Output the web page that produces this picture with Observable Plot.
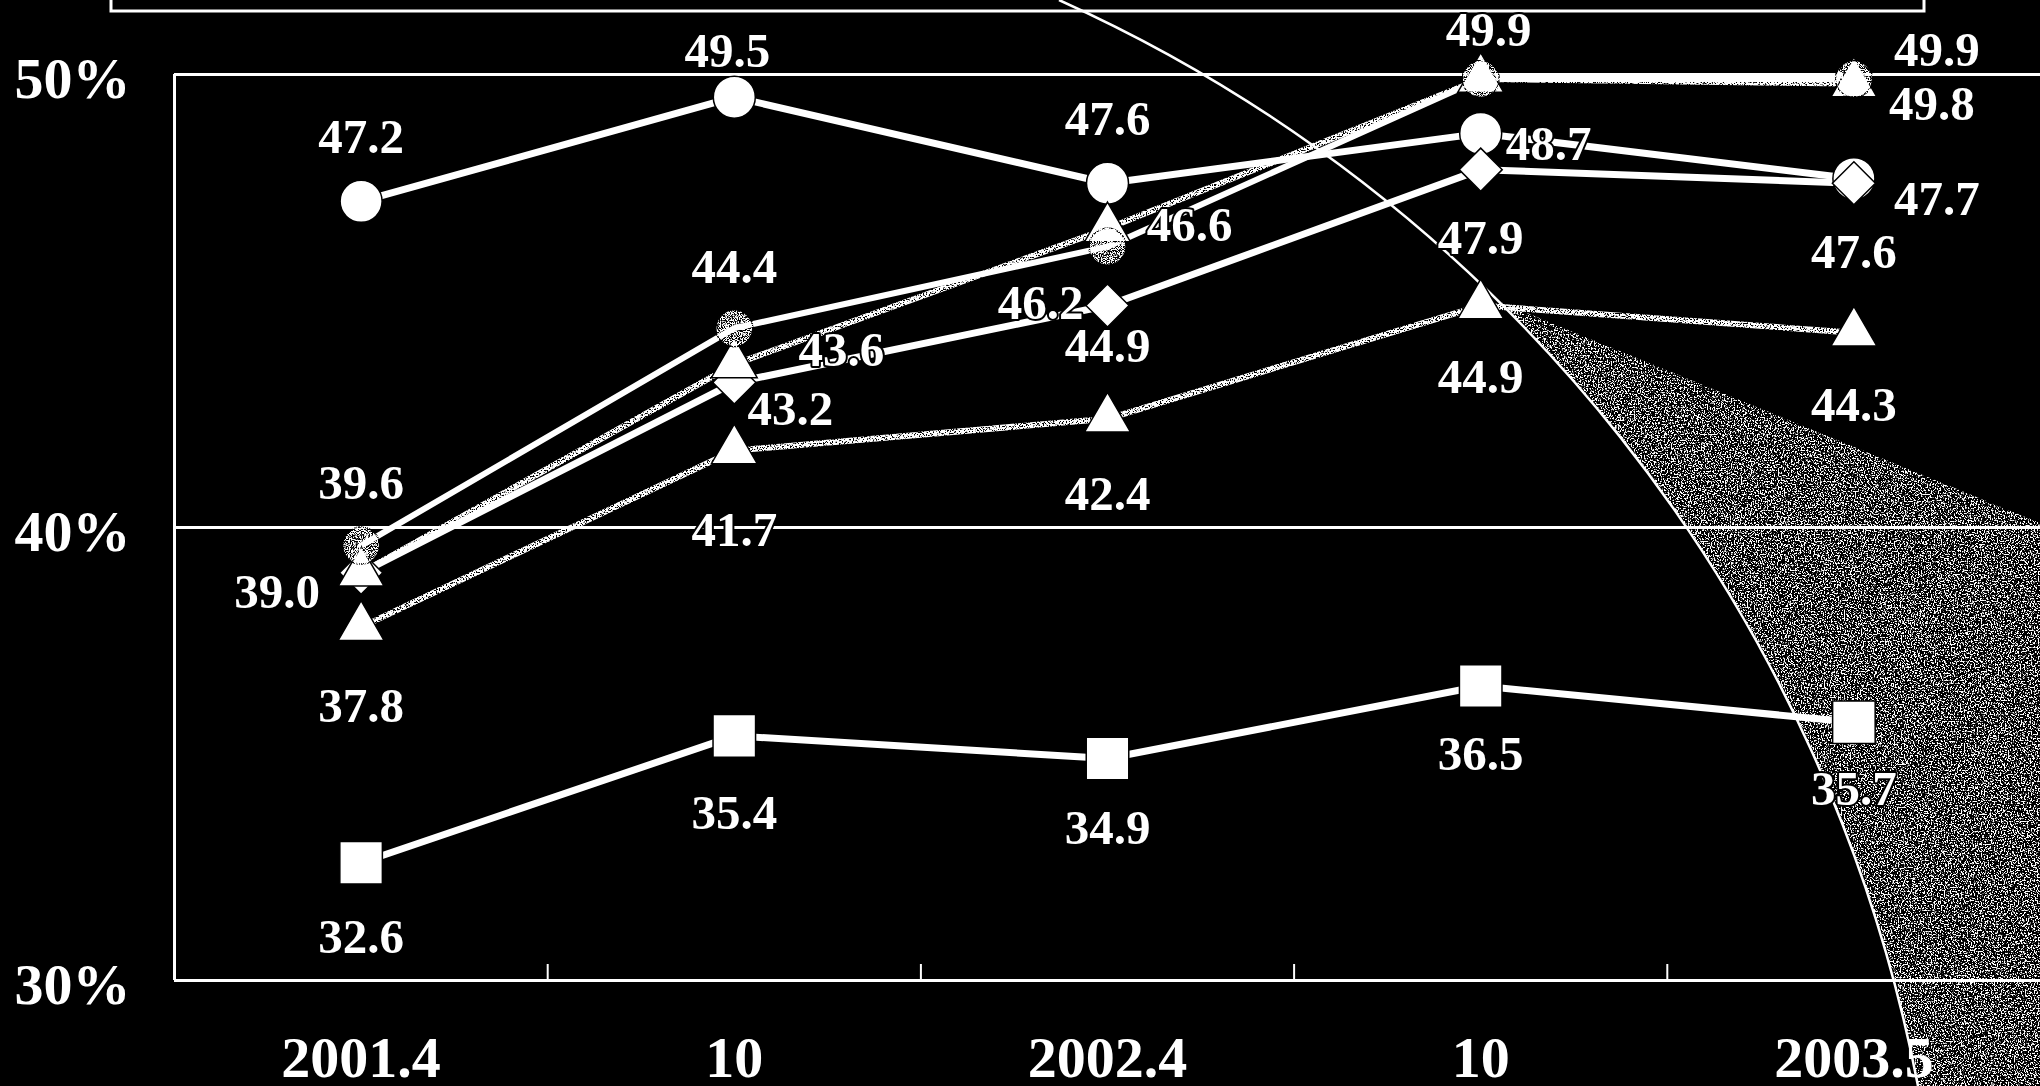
<!DOCTYPE html>
<html>
<head>
<meta charset="utf-8">
<script src="https://cdn.jsdelivr.net/npm/d3@7"></script>
<script src="https://cdn.jsdelivr.net/npm/@observablehq/plot@0.6"></script>
<style>
  html, body { margin: 0; padding: 0; background: #000; overflow: hidden; }
  #chart svg { display: block; }
</style>
</head>
<body>
<div id="chart"></div>
<script>
// ---- data ----
const categories = ["2001.4", "10", "2002.4", "10", "2003.5"];
const yTicks = [30, 40, 50];
const whiteCircle   = [47.2, 49.5, 47.6, 48.7, 47.7];
const grayCircle    = [39.6, 44.4, 46.2, 49.9, 49.9];
const upperTriangle = [39.0, 43.6, 46.6, 49.9, 49.8];
const diamond       = [39.0, 43.2, 44.9, 47.9, 47.6];
const lowerTriangle = [37.8, 41.7, 42.4, 44.9, 44.3];
const square        = [32.6, 35.4, 34.9, 36.5, 35.7];

// ---- label placement (pixel offsets from each point; null = hidden label) ----
const labelOffsets = {
  whiteCircle:   [[0, -64], [-7, -46], [0, -64], [68, 11], [83, 21]],
  grayCircle:    [[0, -62], [0, -61], [-67, 57], [8, -49], [83, -29]],
  upperTriangle: [[-84, 20], [107, -14], [82, -3], null, [78, 21]],
  diamond:       [null, [56, 27], [0, 41], [0, 69], [0, 69]],
  lowerTriangle: [[0, 79], [0, 80], [0, 76], [0, 72], [0, 73]],
  square:        [[0, 75], [0, 77], [0, 70], [0, 68], [0, 67]]
};

// ---- series styles ----
const seriesList = [
  {key: "whiteCircle",   values: whiteCircle,   symbol: "circle",   r: 21,   speckLine: false, speckDot: false, lineW: 7},
  {key: "grayCircle",    values: grayCircle,    symbol: "circle",   r: 18.5, speckLine: false, speckDot: true,  lineW: 6},
  {key: "upperTriangle", values: upperTriangle, symbol: "triangle", r: 17,   speckLine: true,  speckDot: false, lineW: 6},
  {key: "diamond",       values: diamond,       symbol: "diamond2", r: 19.4, speckLine: false, speckDot: false, lineW: 7},
  {key: "lowerTriangle", values: lowerTriangle, symbol: "triangle", r: 17,   speckLine: true,  speckDot: false, lineW: 6},
  {key: "square",        values: square,        symbol: "square",   r: 24,   speckLine: false, speckDot: false, lineW: 7}
];
const dotOrder = ["whiteCircle", "diamond", "square", "upperTriangle", "lowerTriangle", "grayCircle"];

const rowsOf = s => s.values.map((v, i) => ({series: s.key, i, v}));

const FONT = "'Liberation Serif', 'Times New Roman', serif";

const marks = [];
// grid / frame lines
marks.push(Plot.ruleY(yTicks, {stroke: "white", strokeWidth: 3}));
marks.push(Plot.ruleX([-0.5], {y1: yTicks[0], y2: yTicks[yTicks.length - 1], stroke: "white", strokeWidth: 3}));
marks.push(Plot.ruleX(d3.range(1, categories.length).map(i => i - 0.5),
  {y1: yTicks[0], y2: yTicks[0], insetTop: -16, stroke: "white", strokeWidth: 2}));

// lines
for (const s of seriesList) {
  marks.push(Plot.line(rowsOf(s), {
    x: "i", y: "v",
    stroke: "white",
    strokeWidth: s.lineW
  }));
}
// markers
for (const key of dotOrder) {
  const s = seriesList.find(d => d.key === key);
  marks.push(Plot.dot(rowsOf(s), {
    x: "i", y: "v",
    symbol: s.symbol, r: s.r,
    fill: "white",
    stroke: "black", strokeWidth: 1.5
  }));
}
// value labels
for (const s of seriesList) {
  rowsOf(s).forEach((row, i) => {
    const off = labelOffsets[s.key][i];
    if (!off) return;
    marks.push(Plot.text([row], {
      x: "i", y: "v", text: d => d.v.toFixed(1),
      dx: off[0], dy: off[1],
      fontSize: 49, fontWeight: "bold", fontFamily: FONT,
      fill: "white", stroke: "black", strokeWidth: 4, paintOrder: "stroke"
    }));
  });
}
// axes
marks.push(Plot.axisX(d3.range(categories.length), {
  tickFormat: i => categories[i], tickSize: 0, tickPadding: 55,
  fontSize: 58, fontWeight: "bold", fontFamily: FONT, fill: "white", label: null
}));
marks.push(Plot.axisY(yTicks, {
  tickFormat: d => d + "%", tickSize: 0, tickPadding: 44, dy: 5,
  fontSize: 58, fontWeight: "bold", fontFamily: FONT, fill: "white", label: null
}));

const chart = Plot.plot({
  width: 2040, height: 1086,
  marginLeft: 174, marginRight: 0, marginTop: 74, marginBottom: 106,
  x: {domain: [-0.5, categories.length - 0.5]},
  y: {domain: [yTicks[0], yTicks[yTicks.length - 1]]},
  style: {background: "black", color: "white", fontFamily: FONT, overflow: "visible"},
  marks
});

// ---- decorative background (scan artwork: title frame, globe arc, speckled wedge) ----
const svg = d3.select(chart);
const defs = svg.insert("defs", ":first-child");
function noiseFilter(id, freq, a, b, seed) {
  const f = defs.append("filter").attr("id", id)
    .attr("filterUnits", "userSpaceOnUse").attr("x", 0).attr("y", 0)
    .attr("width", 2040).attr("height", 1086)
    .attr("color-interpolation-filters", "sRGB");
  f.append("feTurbulence").attr("type", "fractalNoise").attr("baseFrequency", freq)
    .attr("numOctaves", 2).attr("seed", seed).attr("result", "n");
  f.append("feColorMatrix").attr("in", "n").attr("type", "matrix")
    .attr("values", `0 0 0 0 1  0 0 0 0 1  0 0 0 0 1  ${a} 0 0 0 ${b}`).attr("result", "m");
  f.append("feComposite").attr("in", "SourceGraphic").attr("in2", "m").attr("operator", "in");
}
noiseFilter("speckle", 0.7, 10, -3.6, 7);
noiseFilter("speckleDot", 0.9, 10, -4.4, 11);
noiseFilter("wedgeNoise", 0.7, 12, -6.2, 3);

const firstG = chart.querySelector("g");
const deco = svg.insert("g", () => firstG).attr("aria-label", "decoration");
deco.append("path")
  .attr("d", "M1498,301 L2040,523 L2040,1086 L1918,1086 A1502,1502 0 0 0 1498,301 Z")
  .attr("fill", "white").attr("filter", "url(#wedgeNoise)");
deco.append("path")
  .attr("d", "M1059,0 A1502,1502 0 0 1 1918,1086")
  .attr("fill", "none").attr("stroke", "white").attr("stroke-width", 2.5);
deco.append("rect")
  .attr("x", 111).attr("y", -20).attr("width", 1813).attr("height", 31)
  .attr("fill", "none").attr("stroke", "white").attr("stroke-width", 3);

// speckled texture on the grey series (identified by render order)
const lineGroups = chart.querySelectorAll('g[aria-label="line"]');
seriesList.forEach((s, k) => { if (s.speckLine && lineGroups[k]) lineGroups[k].setAttribute("filter", "url(#speckle)"); });
const dotGroups = chart.querySelectorAll('g[aria-label="dot"]');
dotOrder.forEach((key, k) => {
  const s = seriesList.find(d => d.key === key);
  if (s.speckDot && dotGroups[k]) dotGroups[k].setAttribute("filter", "url(#speckleDot)");
});

document.getElementById("chart").appendChild(chart);
</script>
</body>
</html>
